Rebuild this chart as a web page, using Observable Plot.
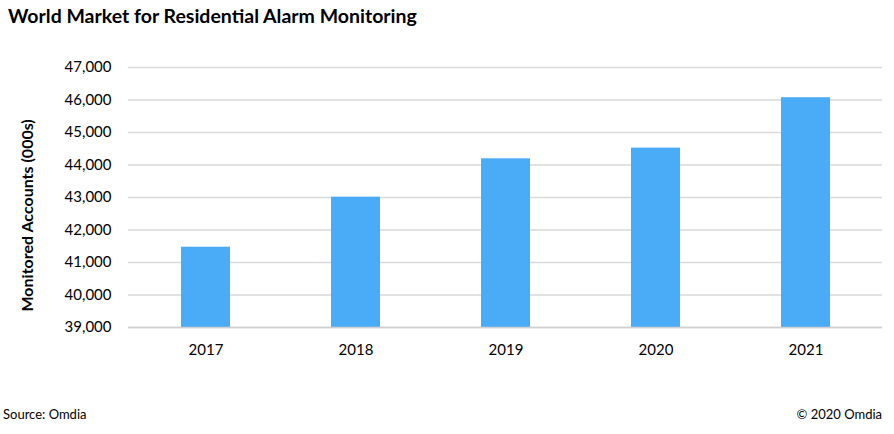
<!DOCTYPE html>
<html>
<head>
<meta charset="utf-8">
<script src="https://cdn.jsdelivr.net/npm/d3@7"></script>
<script src="https://cdn.jsdelivr.net/npm/@observablehq/plot@0.6"></script>
<style>
  html, body { margin: 0; padding: 0; background: #fff; }
  #wrap { position: relative; width: 894px; height: 434px; overflow: hidden; font-family: Lato, "Noto Sans", sans-serif; }
  #title { position: absolute; left: 8px; top: 4px; font-size: 19.5px; font-weight: bold; color: #000; white-space: nowrap; }
  #chart { position: absolute; left: 0; top: 0; }
  #source { position: absolute; left: 3px; top: 406px; font-size: 13px; color: #000; }
  #copy { position: absolute; right: 12px; top: 406px; font-size: 13px; color: #000; }
</style>
</head>
<body>
<div id="wrap">
  <div id="chart"></div>
  <div id="title">World Market for Residential Alarm Monitoring</div>
  <div id="source">Source: Omdia</div>
  <div id="copy">© 2020 Omdia</div>
</div>
<script>
const years = ["2017", "2018", "2019", "2020", "2021"];
const accounts = [41470, 43010, 44190, 44520, 46070];
const yTicks = [39000, 40000, 41000, 42000, 43000, 44000, 45000, 46000, 47000];
const yLabel = "Monitored Accounts (000s)";

const data = years.map((year, i) => ({year, value: accounts[i]}));
const fmt = d3.format(",");

const chart = Plot.plot({
  width: 894,
  height: 434,
  marginLeft: 128,
  marginRight: 12,
  marginTop: 67,
  marginBottom: 107,
  style: {fontFamily: "Lato, 'Noto Sans', sans-serif", fontSize: "15px", color: "#000", background: "transparent"},
  x: {domain: years, paddingInner: 0.675, paddingOuter: 0.3375, label: null},
  y: {domain: [39000, 47000], label: null},
  marks: [
    Plot.gridY(yTicks, {stroke: "#d9d9d9", strokeOpacity: 1, strokeWidth: 1.5}),
    Plot.barY(data, {x: "year", y1: 39000, y2: "value", fill: "#4aabf7"}),
    Plot.ruleY([39000], {stroke: "#d0d0d0", strokeWidth: 1.5}),
    Plot.axisY(yTicks, {tickSize: 0, tickPadding: 17, tickFormat: fmt, fontSize: 15, label: null}),
    Plot.axisX({tickSize: 0, tickPadding: 17, fontSize: 15, label: null}),
    Plot.text([yLabel], {frameAnchor: "left", y: () => 42450, dx: -101, rotate: -90, textAnchor: "middle", fontWeight: "bold", fontSize: 16, text: d => d})
  ]
});
document.getElementById("chart").appendChild(chart);
</script>
</body>
</html>
